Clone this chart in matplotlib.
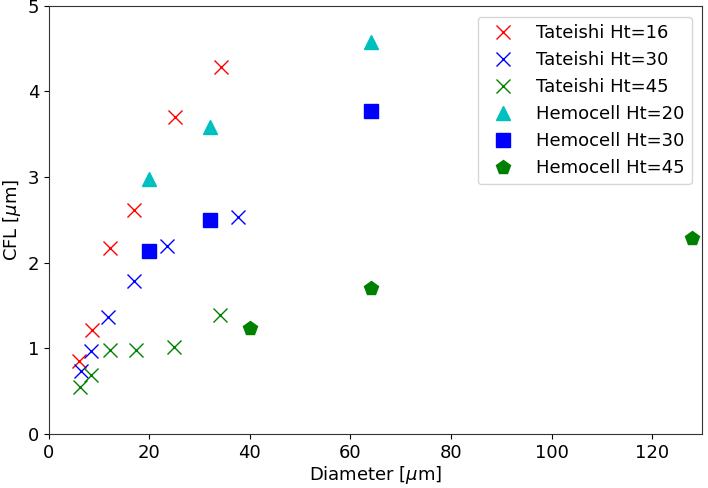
import matplotlib
matplotlib.use("Agg")
import matplotlib.pyplot as plt

t16_d = [6.0, 8.6, 12.2, 17.0, 25.0, 34.3]
t16_cfl = [0.85, 1.21, 2.17, 2.61, 3.70, 4.29]
t30_d = [6.4, 8.3, 11.7, 17.0, 23.5, 37.7]
t30_cfl = [0.73, 0.97, 1.36, 1.79, 2.20, 2.53]
t45_d = [6.2, 8.3, 12.2, 17.3, 24.8, 34.1]
t45_cfl = [0.55, 0.69, 0.98, 0.98, 1.01, 1.39]
h20_d = [20, 32, 64]
h20_cfl = [2.98, 3.58, 4.58]
h30_d = [20, 32, 64]
h30_cfl = [2.14, 2.50, 3.77]
h45_d = [40, 64, 128]
h45_cfl = [1.24, 1.70, 2.29]

fig = plt.figure(figsize=(7.08, 4.88), dpi=100)
ax = fig.add_axes([0.069, 0.111, 0.923, 0.877])
ms = 10
ax.plot(t16_d, t16_cfl, 'rx', ms=ms, mew=1.0, linestyle='none', label='Tateishi Ht=16')
ax.plot(t30_d, t30_cfl, 'bx', ms=ms, mew=1.0, linestyle='none', label='Tateishi Ht=30')
ax.plot(t45_d, t45_cfl, 'gx', ms=ms, mew=1.0, linestyle='none', label='Tateishi Ht=45')
ax.plot(h20_d, h20_cfl, 'c^', ms=ms, linestyle='none', label='Hemocell Ht=20')
ax.plot(h30_d, h30_cfl, 'bs', ms=ms, linestyle='none', label='Hemocell Ht=30')
ax.plot(h45_d, h45_cfl, 'gp', ms=ms, linestyle='none', label='Hemocell Ht=45')
ax.set_xlim(0, 130)
ax.set_ylim(0, 5)
for s in ax.spines.values():
    s.set_color('#333333')
ax.set_xlabel(r'Diameter [$\mu$m]', fontsize=13, labelpad=2)
ax.set_ylabel(r'CFL [$\mu$m]', fontsize=13, labelpad=3)
ax.tick_params(labelsize=13)
ax.legend(loc='upper right', fontsize=13, borderaxespad=0.6)
fig.savefig('out.png', dpi=100)
